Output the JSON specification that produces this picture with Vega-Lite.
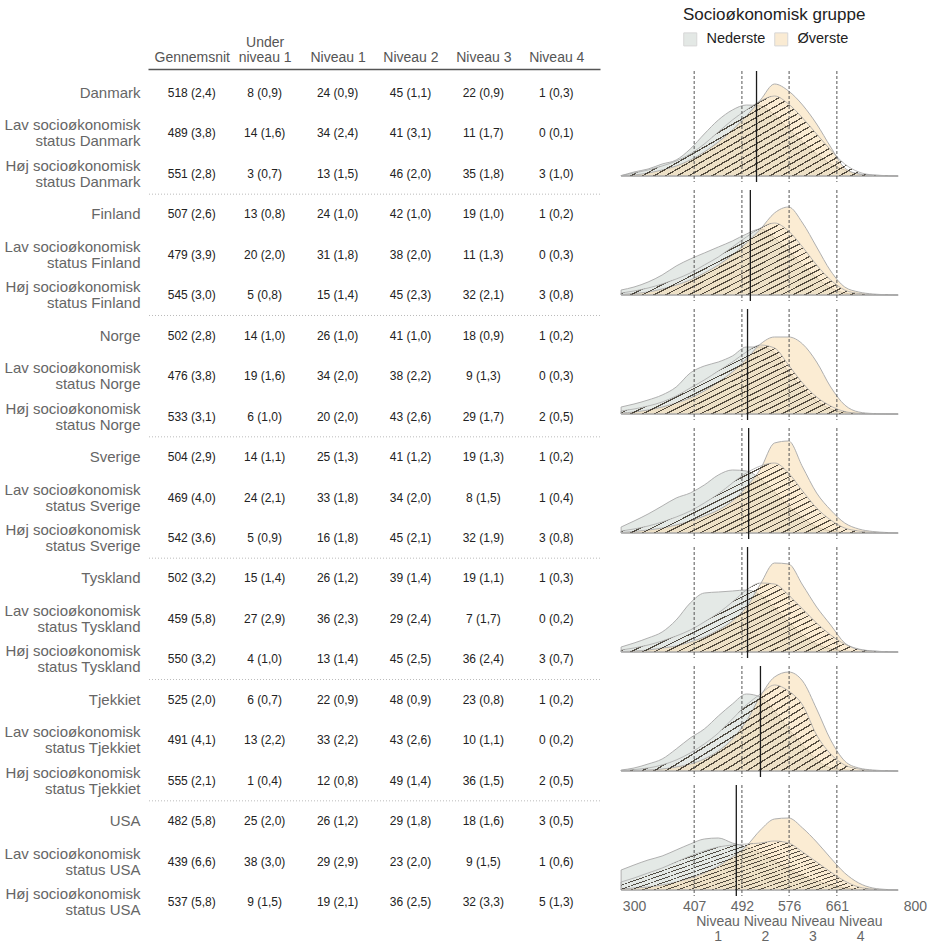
{
  "$schema": "https://vega.github.io/schema/vega-lite/v6.json",
  "autosize": {"type": "pad"},
  "padding": {"left": 4, "top": 7, "right": 0, "bottom": 0},
  "background": "white",
  "bounds": "flush",
  "spacing": 20,
  "config": {
    "view": {"stroke": null},
    "font": "Liberation Sans",
    "axis": {"grid": false}
  },
  "datasets": {
    "tabel": [
      {"rad": "Danmark", "Gennemsnit": "518 (2,4)", "Under niveau 1": "8 (0,9)", "Niveau 1": "24 (0,9)", "Niveau 2": "45 (1,1)", "Niveau 3": "22 (0,9)", "Niveau 4": "1 (0,3)"},
      {"rad": "Lav socioøkonomisk|status Danmark", "Gennemsnit": "489 (3,8)", "Under niveau 1": "14 (1,6)", "Niveau 1": "34 (2,4)", "Niveau 2": "41 (3,1)", "Niveau 3": "11 (1,7)", "Niveau 4": "0 (0,1)"},
      {"rad": "Høj socioøkonomisk|status Danmark", "Gennemsnit": "551 (2,8)", "Under niveau 1": "3 (0,7)", "Niveau 1": "13 (1,5)", "Niveau 2": "46 (2,0)", "Niveau 3": "35 (1,8)", "Niveau 4": "3 (1,0)"},
      {"rad": "Finland", "Gennemsnit": "507 (2,6)", "Under niveau 1": "13 (0,8)", "Niveau 1": "24 (1,0)", "Niveau 2": "42 (1,0)", "Niveau 3": "19 (1,0)", "Niveau 4": "1 (0,2)"},
      {"rad": "Lav socioøkonomisk|status Finland", "Gennemsnit": "479 (3,9)", "Under niveau 1": "20 (2,0)", "Niveau 1": "31 (1,8)", "Niveau 2": "38 (2,0)", "Niveau 3": "11 (1,3)", "Niveau 4": "0 (0,3)"},
      {"rad": "Høj socioøkonomisk|status Finland", "Gennemsnit": "545 (3,0)", "Under niveau 1": "5 (0,8)", "Niveau 1": "15 (1,4)", "Niveau 2": "45 (2,3)", "Niveau 3": "32 (2,1)", "Niveau 4": "3 (0,8)"},
      {"rad": "Norge", "Gennemsnit": "502 (2,8)", "Under niveau 1": "14 (1,0)", "Niveau 1": "26 (1,0)", "Niveau 2": "41 (1,0)", "Niveau 3": "18 (0,9)", "Niveau 4": "1 (0,2)"},
      {"rad": "Lav socioøkonomisk|status Norge", "Gennemsnit": "476 (3,8)", "Under niveau 1": "19 (1,6)", "Niveau 1": "34 (2,0)", "Niveau 2": "38 (2,2)", "Niveau 3": "9 (1,3)", "Niveau 4": "0 (0,3)"},
      {"rad": "Høj socioøkonomisk|status Norge", "Gennemsnit": "533 (3,1)", "Under niveau 1": "6 (1,0)", "Niveau 1": "20 (2,0)", "Niveau 2": "43 (2,6)", "Niveau 3": "29 (1,7)", "Niveau 4": "2 (0,5)"},
      {"rad": "Sverige", "Gennemsnit": "504 (2,9)", "Under niveau 1": "14 (1,1)", "Niveau 1": "25 (1,3)", "Niveau 2": "41 (1,2)", "Niveau 3": "19 (1,3)", "Niveau 4": "1 (0,2)"},
      {"rad": "Lav socioøkonomisk|status Sverige", "Gennemsnit": "469 (4,0)", "Under niveau 1": "24 (2,1)", "Niveau 1": "33 (1,8)", "Niveau 2": "34 (2,0)", "Niveau 3": "8 (1,5)", "Niveau 4": "1 (0,4)"},
      {"rad": "Høj socioøkonomisk|status Sverige", "Gennemsnit": "542 (3,6)", "Under niveau 1": "5 (0,9)", "Niveau 1": "16 (1,8)", "Niveau 2": "45 (2,1)", "Niveau 3": "32 (1,9)", "Niveau 4": "3 (0,8)"},
      {"rad": "Tyskland", "Gennemsnit": "502 (3,2)", "Under niveau 1": "15 (1,4)", "Niveau 1": "26 (1,2)", "Niveau 2": "39 (1,4)", "Niveau 3": "19 (1,1)", "Niveau 4": "1 (0,3)"},
      {"rad": "Lav socioøkonomisk|status Tyskland", "Gennemsnit": "459 (5,8)", "Under niveau 1": "27 (2,9)", "Niveau 1": "36 (2,3)", "Niveau 2": "29 (2,4)", "Niveau 3": "7 (1,7)", "Niveau 4": "0 (0,2)"},
      {"rad": "Høj socioøkonomisk|status Tyskland", "Gennemsnit": "550 (3,2)", "Under niveau 1": "4 (1,0)", "Niveau 1": "13 (1,4)", "Niveau 2": "45 (2,5)", "Niveau 3": "36 (2,4)", "Niveau 4": "3 (0,7)"},
      {"rad": "Tjekkiet", "Gennemsnit": "525 (2,0)", "Under niveau 1": "6 (0,7)", "Niveau 1": "22 (0,9)", "Niveau 2": "48 (0,9)", "Niveau 3": "23 (0,8)", "Niveau 4": "1 (0,2)"},
      {"rad": "Lav socioøkonomisk|status Tjekkiet", "Gennemsnit": "491 (4,1)", "Under niveau 1": "13 (2,2)", "Niveau 1": "33 (2,2)", "Niveau 2": "43 (2,6)", "Niveau 3": "10 (1,1)", "Niveau 4": "0 (0,2)"},
      {"rad": "Høj socioøkonomisk|status Tjekkiet", "Gennemsnit": "555 (2,1)", "Under niveau 1": "1 (0,4)", "Niveau 1": "12 (0,8)", "Niveau 2": "49 (1,4)", "Niveau 3": "36 (1,5)", "Niveau 4": "2 (0,5)"},
      {"rad": "USA", "Gennemsnit": "482 (5,8)", "Under niveau 1": "25 (2,0)", "Niveau 1": "26 (1,2)", "Niveau 2": "29 (1,8)", "Niveau 3": "18 (1,6)", "Niveau 4": "3 (0,5)"},
      {"rad": "Lav socioøkonomisk|status USA", "Gennemsnit": "439 (6,6)", "Under niveau 1": "38 (3,0)", "Niveau 1": "29 (2,9)", "Niveau 2": "23 (2,0)", "Niveau 3": "9 (1,5)", "Niveau 4": "1 (0,6)"},
      {"rad": "Høj socioøkonomisk|status USA", "Gennemsnit": "537 (5,8)", "Under niveau 1": "9 (1,5)", "Niveau 1": "19 (2,1)", "Niveau 2": "36 (2,5)", "Niveau 3": "32 (3,3)", "Niveau 4": "5 (1,3)"}
    ],
    "skille": [
      {"rad": "Finland"}, {"rad": "Norge"}, {"rad": "Sverige"}, {"rad": "Tyskland"}, {"rad": "Tjekkiet"}, {"rad": "USA"}
    ],
    "kurver": [
      {"land":"Danmark","score":277,"ned":0.3,"ovr":0.3,"sam":0.5},
      {"land":"Danmark","score":300,"ned":4,"ovr":1,"sam":3},
      {"land":"Danmark","score":325,"ned":7,"ovr":3,"sam":6},
      {"land":"Danmark","score":350,"ned":12,"ovr":6,"sam":10},
      {"land":"Danmark","score":375,"ned":16,"ovr":10,"sam":15},
      {"land":"Danmark","score":400,"ned":27,"ovr":16,"sam":22},
      {"land":"Danmark","score":425,"ned":42,"ovr":24,"sam":32},
      {"land":"Danmark","score":450,"ned":56,"ovr":34,"sam":44},
      {"land":"Danmark","score":475,"ned":66,"ovr":46,"sam":56},
      {"land":"Danmark","score":500,"ned":71,"ovr":60,"sam":66},
      {"land":"Danmark","score":525,"ned":70,"ovr":76,"sam":75},
      {"land":"Danmark","score":550,"ned":61,"ovr":92,"sam":80},
      {"land":"Danmark","score":575,"ned":47,"ovr":85,"sam":72},
      {"land":"Danmark","score":600,"ned":34,"ovr":71,"sam":58},
      {"land":"Danmark","score":625,"ned":22,"ovr":52,"sam":42},
      {"land":"Danmark","score":650,"ned":12,"ovr":29,"sam":26},
      {"land":"Danmark","score":675,"ned":6,"ovr":8,"sam":12},
      {"land":"Danmark","score":700,"ned":2,"ovr":2,"sam":4},
      {"land":"Danmark","score":725,"ned":1,"ovr":0.5,"sam":1},
      {"land":"Danmark","score":750,"ned":0.3,"ovr":0.2,"sam":0.3},
      {"land":"Danmark","score":770,"ned":0,"ovr":0,"sam":0},
      {"land":"Finland","score":277,"ned":5,"ovr":0.5,"sam":2},
      {"land":"Finland","score":300,"ned":8,"ovr":1.5,"sam":4},
      {"land":"Finland","score":325,"ned":13,"ovr":3,"sam":7},
      {"land":"Finland","score":350,"ned":20,"ovr":6,"sam":11},
      {"land":"Finland","score":375,"ned":29,"ovr":10,"sam":16},
      {"land":"Finland","score":400,"ned":36,"ovr":15,"sam":22},
      {"land":"Finland","score":425,"ned":42,"ovr":22,"sam":30},
      {"land":"Finland","score":450,"ned":48,"ovr":30,"sam":38},
      {"land":"Finland","score":475,"ned":54,"ovr":40,"sam":48},
      {"land":"Finland","score":500,"ned":61,"ovr":52,"sam":58},
      {"land":"Finland","score":525,"ned":66,"ovr":66,"sam":67},
      {"land":"Finland","score":550,"ned":57,"ovr":82,"sam":72},
      {"land":"Finland","score":575,"ned":44,"ovr":88,"sam":64},
      {"land":"Finland","score":600,"ned":30,"ovr":72,"sam":48},
      {"land":"Finland","score":625,"ned":17,"ovr":48,"sam":30},
      {"land":"Finland","score":650,"ned":7,"ovr":24,"sam":15},
      {"land":"Finland","score":675,"ned":2,"ovr":8,"sam":5},
      {"land":"Finland","score":700,"ned":0.5,"ovr":3,"sam":1.5},
      {"land":"Finland","score":725,"ned":0.2,"ovr":1,"sam":0.5},
      {"land":"Finland","score":750,"ned":0,"ovr":0.3,"sam":0.2},
      {"land":"Finland","score":770,"ned":0,"ovr":0,"sam":0},
      {"land":"Norge","score":277,"ned":7,"ovr":1,"sam":3},
      {"land":"Norge","score":300,"ned":10,"ovr":2,"sam":5},
      {"land":"Norge","score":325,"ned":14,"ovr":4,"sam":8},
      {"land":"Norge","score":350,"ned":19,"ovr":7,"sam":12},
      {"land":"Norge","score":375,"ned":27,"ovr":11,"sam":18},
      {"land":"Norge","score":400,"ned":41,"ovr":16,"sam":26},
      {"land":"Norge","score":425,"ned":48,"ovr":23,"sam":34},
      {"land":"Norge","score":450,"ned":52,"ovr":32,"sam":43},
      {"land":"Norge","score":475,"ned":58,"ovr":42,"sam":52},
      {"land":"Norge","score":500,"ned":67,"ovr":55,"sam":62},
      {"land":"Norge","score":525,"ned":67,"ovr":70,"sam":69},
      {"land":"Norge","score":550,"ned":61,"ovr":77,"sam":66},
      {"land":"Norge","score":575,"ned":42,"ovr":77,"sam":49},
      {"land":"Norge","score":600,"ned":26,"ovr":70,"sam":31},
      {"land":"Norge","score":625,"ned":13,"ovr":52,"sam":17},
      {"land":"Norge","score":650,"ned":5,"ovr":27,"sam":8},
      {"land":"Norge","score":675,"ned":1.5,"ovr":9,"sam":2.5},
      {"land":"Norge","score":700,"ned":0.5,"ovr":2,"sam":0.7},
      {"land":"Norge","score":725,"ned":0.2,"ovr":0.5,"sam":0.2},
      {"land":"Norge","score":750,"ned":0,"ovr":0.2,"sam":0},
      {"land":"Norge","score":770,"ned":0,"ovr":0,"sam":0},
      {"land":"Sverige","score":277,"ned":6,"ovr":0.5,"sam":2},
      {"land":"Sverige","score":300,"ned":12,"ovr":1.5,"sam":4},
      {"land":"Sverige","score":325,"ned":19,"ovr":3,"sam":7},
      {"land":"Sverige","score":350,"ned":27,"ovr":5,"sam":11},
      {"land":"Sverige","score":375,"ned":35,"ovr":8,"sam":16},
      {"land":"Sverige","score":400,"ned":40,"ovr":12,"sam":22},
      {"land":"Sverige","score":425,"ned":48,"ovr":17,"sam":30},
      {"land":"Sverige","score":450,"ned":58,"ovr":23,"sam":39},
      {"land":"Sverige","score":475,"ned":63,"ovr":32,"sam":50},
      {"land":"Sverige","score":500,"ned":62,"ovr":46,"sam":60},
      {"land":"Sverige","score":525,"ned":54,"ovr":64,"sam":67},
      {"land":"Sverige","score":550,"ned":41,"ovr":90,"sam":70},
      {"land":"Sverige","score":575,"ned":27,"ovr":92,"sam":60},
      {"land":"Sverige","score":600,"ned":15,"ovr":66,"sam":42},
      {"land":"Sverige","score":625,"ned":6,"ovr":40,"sam":25},
      {"land":"Sverige","score":650,"ned":2,"ovr":23,"sam":13},
      {"land":"Sverige","score":675,"ned":0.5,"ovr":10,"sam":5},
      {"land":"Sverige","score":700,"ned":0.2,"ovr":4,"sam":2},
      {"land":"Sverige","score":725,"ned":0,"ovr":1.5,"sam":0.5},
      {"land":"Sverige","score":750,"ned":0,"ovr":0.5,"sam":0.2},
      {"land":"Sverige","score":770,"ned":0,"ovr":0,"sam":0},
      {"land":"Tyskland","score":277,"ned":5,"ovr":0.5,"sam":2},
      {"land":"Tyskland","score":300,"ned":9,"ovr":1,"sam":4},
      {"land":"Tyskland","score":325,"ned":14,"ovr":2,"sam":7},
      {"land":"Tyskland","score":350,"ned":20,"ovr":4,"sam":11},
      {"land":"Tyskland","score":375,"ned":32,"ovr":6,"sam":16},
      {"land":"Tyskland","score":400,"ned":49,"ovr":10,"sam":22},
      {"land":"Tyskland","score":425,"ned":59,"ovr":15,"sam":30},
      {"land":"Tyskland","score":450,"ned":60,"ovr":22,"sam":39},
      {"land":"Tyskland","score":475,"ned":61,"ovr":31,"sam":50},
      {"land":"Tyskland","score":500,"ned":62,"ovr":45,"sam":62},
      {"land":"Tyskland","score":525,"ned":57,"ovr":68,"sam":69},
      {"land":"Tyskland","score":550,"ned":44,"ovr":89,"sam":68},
      {"land":"Tyskland","score":575,"ned":30,"ovr":88,"sam":57},
      {"land":"Tyskland","score":600,"ned":17,"ovr":67,"sam":43},
      {"land":"Tyskland","score":625,"ned":8,"ovr":45,"sam":29},
      {"land":"Tyskland","score":650,"ned":3,"ovr":27,"sam":17},
      {"land":"Tyskland","score":675,"ned":1,"ovr":9,"sam":8},
      {"land":"Tyskland","score":700,"ned":0.3,"ovr":2.5,"sam":3},
      {"land":"Tyskland","score":725,"ned":0,"ovr":1,"sam":1},
      {"land":"Tyskland","score":750,"ned":0,"ovr":0.3,"sam":0.3},
      {"land":"Tyskland","score":770,"ned":0,"ovr":0,"sam":0},
      {"land":"Tjekkiet","score":277,"ned":1,"ovr":0.3,"sam":0.5},
      {"land":"Tjekkiet","score":300,"ned":3,"ovr":0.5,"sam":1.5},
      {"land":"Tjekkiet","score":325,"ned":7,"ovr":1,"sam":3},
      {"land":"Tjekkiet","score":350,"ned":12,"ovr":2,"sam":6},
      {"land":"Tjekkiet","score":375,"ned":22,"ovr":4,"sam":11},
      {"land":"Tjekkiet","score":400,"ned":33,"ovr":7,"sam":18},
      {"land":"Tjekkiet","score":425,"ned":42,"ovr":12,"sam":27},
      {"land":"Tjekkiet","score":450,"ned":55,"ovr":20,"sam":38},
      {"land":"Tjekkiet","score":475,"ned":67,"ovr":32,"sam":52},
      {"land":"Tjekkiet","score":500,"ned":77,"ovr":50,"sam":66},
      {"land":"Tjekkiet","score":525,"ned":74,"ovr":75,"sam":77},
      {"land":"Tjekkiet","score":550,"ned":60,"ovr":94,"sam":86},
      {"land":"Tjekkiet","score":575,"ned":42,"ovr":99,"sam":80},
      {"land":"Tjekkiet","score":600,"ned":26,"ovr":90,"sam":66},
      {"land":"Tjekkiet","score":625,"ned":11,"ovr":62,"sam":36},
      {"land":"Tjekkiet","score":650,"ned":3,"ovr":31,"sam":17},
      {"land":"Tjekkiet","score":675,"ned":1,"ovr":10,"sam":6},
      {"land":"Tjekkiet","score":700,"ned":0.3,"ovr":3,"sam":2},
      {"land":"Tjekkiet","score":725,"ned":0,"ovr":1,"sam":0.5},
      {"land":"Tjekkiet","score":750,"ned":0,"ovr":0.3,"sam":0.2},
      {"land":"Tjekkiet","score":770,"ned":0,"ovr":0,"sam":0},
      {"land":"USA","score":277,"ned":20,"ovr":1,"sam":8},
      {"land":"USA","score":300,"ned":25,"ovr":2,"sam":12},
      {"land":"USA","score":325,"ned":30,"ovr":3,"sam":17},
      {"land":"USA","score":350,"ned":34,"ovr":5,"sam":22},
      {"land":"USA","score":375,"ned":40,"ovr":8,"sam":28},
      {"land":"USA","score":400,"ned":46,"ovr":12,"sam":34},
      {"land":"USA","score":425,"ned":51,"ovr":17,"sam":39},
      {"land":"USA","score":450,"ned":52,"ovr":24,"sam":43},
      {"land":"USA","score":475,"ned":47,"ovr":33,"sam":45},
      {"land":"USA","score":500,"ned":43,"ovr":44,"sam":46},
      {"land":"USA","score":525,"ned":37,"ovr":60,"sam":47},
      {"land":"USA","score":550,"ned":29,"ovr":71,"sam":49},
      {"land":"USA","score":575,"ned":21,"ovr":72,"sam":47},
      {"land":"USA","score":600,"ned":14,"ovr":62,"sam":38},
      {"land":"USA","score":625,"ned":9,"ovr":48,"sam":28},
      {"land":"USA","score":650,"ned":5,"ovr":32,"sam":18},
      {"land":"USA","score":675,"ned":2,"ovr":17,"sam":9},
      {"land":"USA","score":700,"ned":0.7,"ovr":7,"sam":3},
      {"land":"USA","score":725,"ned":0.3,"ovr":2,"sam":1},
      {"land":"USA","score":750,"ned":0,"ovr":0.5,"sam":0.3},
      {"land":"USA","score":770,"ned":0,"ovr":0,"sam":0},
      {"land":"Danmark","snit":518},
      {"land":"Finland","snit":507},
      {"land":"Norge","snit":502},
      {"land":"Sverige","snit":504},
      {"land":"Tyskland","snit":502},
      {"land":"Tjekkiet","snit":525},
      {"land":"USA","snit":482},
      {"land":"Danmark","niveau":407},{"land":"Danmark","niveau":492},{"land":"Danmark","niveau":576},{"land":"Danmark","niveau":661},
      {"land":"Finland","niveau":407},{"land":"Finland","niveau":492},{"land":"Finland","niveau":576},{"land":"Finland","niveau":661},
      {"land":"Norge","niveau":407},{"land":"Norge","niveau":492},{"land":"Norge","niveau":576},{"land":"Norge","niveau":661},
      {"land":"Sverige","niveau":407},{"land":"Sverige","niveau":492},{"land":"Sverige","niveau":576},{"land":"Sverige","niveau":661},
      {"land":"Tyskland","niveau":407},{"land":"Tyskland","niveau":492},{"land":"Tyskland","niveau":576},{"land":"Tyskland","niveau":661},
      {"land":"Tjekkiet","niveau":407},{"land":"Tjekkiet","niveau":492},{"land":"Tjekkiet","niveau":576},{"land":"Tjekkiet","niveau":661},
      {"land":"USA","niveau":407},{"land":"USA","niveau":492},{"land":"USA","niveau":576},{"land":"USA","niveau":661},
      {"land":"USA","midt":449.5,"niveaunavn":["Niveau","1"]},
      {"land":"USA","midt":534,"niveaunavn":["Niveau","2"]},
      {"land":"USA","midt":618.5,"niveaunavn":["Niveau","3"]},
      {"land":"USA","midt":703.5,"niveaunavn":["Niveau","4"]}
    ]
  },
  "hconcat": [
    {
      "width": 452,
      "height": 853,
      "layer": [
        {
          "data": {"name": "tabel"},
          "transform": [{"fold": ["Gennemsnit", "Under niveau 1", "Niveau 1", "Niveau 2", "Niveau 3", "Niveau 4"], "as": ["kol", "tekst"]}],
          "mark": {"type": "text", "fontSize": 12, "color": "#222222", "align": "center", "baseline": "middle"},
          "encoding": {
            "x": {
              "field": "kol", "type": "nominal", "sort": null,
              "scale": {"type": "point", "padding": 0.6, "domain": ["Gennemsnit", "Under niveau 1", "Niveau 1", "Niveau 2", "Niveau 3", "Niveau 4"]},
              "axis": {
                "orient": "top", "title": null, "labelAngle": 0, "ticks": false,
                "domain": true, "domainColor": "#555555", "domainWidth": 1.5, "offset": 2,
                "labelPadding": 20, "labelFontSize": 14, "labelColor": "#555555", "labelLineHeight": 15,
                "labelExpr": "datum.label == 'Under niveau 1' ? ['Under', 'niveau 1'] : ['\u00a0', datum.label]"
              }
            },
            "y": {
              "field": "rad", "type": "nominal", "sort": null,
              "scale": {
                "type": "band", "paddingInner": 0, "paddingOuter": 0.045,
                "domain": [
                  "Danmark", "Lav socioøkonomisk|status Danmark", "Høj socioøkonomisk|status Danmark",
                  "Finland", "Lav socioøkonomisk|status Finland", "Høj socioøkonomisk|status Finland",
                  "Norge", "Lav socioøkonomisk|status Norge", "Høj socioøkonomisk|status Norge",
                  "Sverige", "Lav socioøkonomisk|status Sverige", "Høj socioøkonomisk|status Sverige",
                  "Tyskland", "Lav socioøkonomisk|status Tyskland", "Høj socioøkonomisk|status Tyskland",
                  "Tjekkiet", "Lav socioøkonomisk|status Tjekkiet", "Høj socioøkonomisk|status Tjekkiet",
                  "USA", "Lav socioøkonomisk|status USA", "Høj socioøkonomisk|status USA"
                ]
              },
              "axis": {
                "title": null, "ticks": false, "domain": false, "labelPadding": 8,
                "labelFontSize": 15, "labelColor": "#666666", "labelLineHeight": 16,
                "labelOffset": {"condition": {"test": "indexof(datum.value, '|') >= 0", "value": -8}, "value": 0},
                "labelExpr": "split(datum.label, '|')"
              }
            },
            "text": {"field": "tekst", "type": "nominal"}
          }
        },
        {
          "data": {"name": "skille"},
          "mark": {"type": "rule", "color": "#bbbbbb", "strokeDash": [1, 2], "strokeWidth": 1},
          "encoding": {
            "y": {"field": "rad", "type": "nominal", "bandPosition": 0}
          }
        }
      ]
    },
    {
      "data": {"name": "kurver"},
      "facet": {
        "row": {
          "field": "land", "type": "nominal", "header": null,
          "sort": ["Danmark", "Finland", "Norge", "Sverige", "Tyskland", "Tjekkiet", "USA"]
        }
      },
      "spacing": 8,
      "bounds": "flush",
      "spec": {
        "width": 309,
        "height": 111,
        "layer": [
          {
            "transform": [{"filter": "isValid(datum.score)"}],
            "mark": {"type": "area", "interpolate": "monotone", "fillOpacity": 0.5, "stroke": "#b0b0b0", "strokeWidth": 1},
            "encoding": {
              "x": {
                "field": "score", "type": "quantitative",
                "scale": {"domain": [275, 825], "nice": false, "zero": false},
                "axis": {
                  "title": null, "values": [300, 407, 492, 576, 661, 800],
                  "domain": false, "ticks": false, "grid": false,
                  "labelFontSize": 14, "labelColor": "#666666", "labelPadding": 3,
                  "labelOverlap": false, "labelFlush": false, "labelBound": false
                }
              },
              "y": {"field": "ned", "type": "quantitative", "scale": {"domain": [-6, 105], "nice": false, "zero": false}, "axis": null},
              "fill": {
                "datum": "Nederste", "type": "nominal",
                "scale": {"domain": ["Nederste", "Øverste"], "range": ["#c9d3cd", "#f7d9a8"]},
                "legend": {
                  "title": "Socioøkonomisk gruppe", "orient": "none", "legendX": 535, "legendY": -64,
                  "direction": "horizontal", "padding": 0, "titleLimit": 400,
                  "titleFontSize": 17, "titleFontWeight": "normal", "titleColor": "#222222", "titlePadding": 8,
                  "labelFontSize": 14.5, "labelColor": "#222222", "labelOffset": 9, "columnPadding": 6,
                  "symbolType": "square", "symbolSize": 169, "symbolStrokeColor": "#999999", "symbolStrokeWidth": 1,
                  "symbolOpacity": 0.5
                }
              }
            }
          },
          {
            "transform": [{"filter": "isValid(datum.score)"}],
            "mark": {"type": "area", "interpolate": "monotone", "fillOpacity": 0.5, "stroke": "#b0b0b0", "strokeWidth": 1},
            "encoding": {
              "x": {"field": "score", "type": "quantitative"},
              "y": {"field": "ovr", "type": "quantitative"},
              "fill": {"datum": "Øverste", "type": "nominal"}
            }
          },
          {
            "transform": [{"filter": "isValid(datum.score)"}],
            "mark": {
              "type": "area", "interpolate": "monotone", "stroke": "#a8a8a8", "strokeWidth": 0.8,
              "fill": {
                "gradient": "linear", "x1": 0, "y1": 0, "x2": 1.2, "y2": 0.606,
                "stops": [
                  {"offset": 0, "color": "rgba(0,0,0,0)"},
                  {"offset": 0.0217, "color": "rgba(0,0,0,0)"}, {"offset": 0.0217, "color": "rgba(45,38,28,0.8)"}, {"offset": 0.0278, "color": "rgba(45,38,28,0.8)"}, {"offset": 0.0278, "color": "rgba(0,0,0,0)"},
                  {"offset": 0.0494, "color": "rgba(0,0,0,0)"}, {"offset": 0.0494, "color": "rgba(45,38,28,0.8)"}, {"offset": 0.0556, "color": "rgba(45,38,28,0.8)"}, {"offset": 0.0556, "color": "rgba(0,0,0,0)"},
                  {"offset": 0.0772, "color": "rgba(0,0,0,0)"}, {"offset": 0.0772, "color": "rgba(45,38,28,0.8)"}, {"offset": 0.0833, "color": "rgba(45,38,28,0.8)"}, {"offset": 0.0833, "color": "rgba(0,0,0,0)"},
                  {"offset": 0.1050, "color": "rgba(0,0,0,0)"}, {"offset": 0.1050, "color": "rgba(45,38,28,0.8)"}, {"offset": 0.1111, "color": "rgba(45,38,28,0.8)"}, {"offset": 0.1111, "color": "rgba(0,0,0,0)"},
                  {"offset": 0.1328, "color": "rgba(0,0,0,0)"}, {"offset": 0.1328, "color": "rgba(45,38,28,0.8)"}, {"offset": 0.1389, "color": "rgba(45,38,28,0.8)"}, {"offset": 0.1389, "color": "rgba(0,0,0,0)"},
                  {"offset": 0.1606, "color": "rgba(0,0,0,0)"}, {"offset": 0.1606, "color": "rgba(45,38,28,0.8)"}, {"offset": 0.1667, "color": "rgba(45,38,28,0.8)"}, {"offset": 0.1667, "color": "rgba(0,0,0,0)"},
                  {"offset": 0.1883, "color": "rgba(0,0,0,0)"}, {"offset": 0.1883, "color": "rgba(45,38,28,0.8)"}, {"offset": 0.1944, "color": "rgba(45,38,28,0.8)"}, {"offset": 0.1944, "color": "rgba(0,0,0,0)"},
                  {"offset": 0.2161, "color": "rgba(0,0,0,0)"}, {"offset": 0.2161, "color": "rgba(45,38,28,0.8)"}, {"offset": 0.2222, "color": "rgba(45,38,28,0.8)"}, {"offset": 0.2222, "color": "rgba(0,0,0,0)"},
                  {"offset": 0.2439, "color": "rgba(0,0,0,0)"}, {"offset": 0.2439, "color": "rgba(45,38,28,0.8)"}, {"offset": 0.2500, "color": "rgba(45,38,28,0.8)"}, {"offset": 0.2500, "color": "rgba(0,0,0,0)"},
                  {"offset": 0.2717, "color": "rgba(0,0,0,0)"}, {"offset": 0.2717, "color": "rgba(45,38,28,0.8)"}, {"offset": 0.2778, "color": "rgba(45,38,28,0.8)"}, {"offset": 0.2778, "color": "rgba(0,0,0,0)"},
                  {"offset": 0.2994, "color": "rgba(0,0,0,0)"}, {"offset": 0.2994, "color": "rgba(45,38,28,0.8)"}, {"offset": 0.3056, "color": "rgba(45,38,28,0.8)"}, {"offset": 0.3056, "color": "rgba(0,0,0,0)"},
                  {"offset": 0.3272, "color": "rgba(0,0,0,0)"}, {"offset": 0.3272, "color": "rgba(45,38,28,0.8)"}, {"offset": 0.3333, "color": "rgba(45,38,28,0.8)"}, {"offset": 0.3333, "color": "rgba(0,0,0,0)"},
                  {"offset": 0.3550, "color": "rgba(0,0,0,0)"}, {"offset": 0.3550, "color": "rgba(45,38,28,0.8)"}, {"offset": 0.3611, "color": "rgba(45,38,28,0.8)"}, {"offset": 0.3611, "color": "rgba(0,0,0,0)"},
                  {"offset": 0.3828, "color": "rgba(0,0,0,0)"}, {"offset": 0.3828, "color": "rgba(45,38,28,0.8)"}, {"offset": 0.3889, "color": "rgba(45,38,28,0.8)"}, {"offset": 0.3889, "color": "rgba(0,0,0,0)"},
                  {"offset": 0.4106, "color": "rgba(0,0,0,0)"}, {"offset": 0.4106, "color": "rgba(45,38,28,0.8)"}, {"offset": 0.4167, "color": "rgba(45,38,28,0.8)"}, {"offset": 0.4167, "color": "rgba(0,0,0,0)"},
                  {"offset": 0.4383, "color": "rgba(0,0,0,0)"}, {"offset": 0.4383, "color": "rgba(45,38,28,0.8)"}, {"offset": 0.4444, "color": "rgba(45,38,28,0.8)"}, {"offset": 0.4444, "color": "rgba(0,0,0,0)"},
                  {"offset": 0.4661, "color": "rgba(0,0,0,0)"}, {"offset": 0.4661, "color": "rgba(45,38,28,0.8)"}, {"offset": 0.4722, "color": "rgba(45,38,28,0.8)"}, {"offset": 0.4722, "color": "rgba(0,0,0,0)"},
                  {"offset": 0.4939, "color": "rgba(0,0,0,0)"}, {"offset": 0.4939, "color": "rgba(45,38,28,0.8)"}, {"offset": 0.5000, "color": "rgba(45,38,28,0.8)"}, {"offset": 0.5000, "color": "rgba(0,0,0,0)"},
                  {"offset": 0.5217, "color": "rgba(0,0,0,0)"}, {"offset": 0.5217, "color": "rgba(45,38,28,0.8)"}, {"offset": 0.5278, "color": "rgba(45,38,28,0.8)"}, {"offset": 0.5278, "color": "rgba(0,0,0,0)"},
                  {"offset": 0.5494, "color": "rgba(0,0,0,0)"}, {"offset": 0.5494, "color": "rgba(45,38,28,0.8)"}, {"offset": 0.5556, "color": "rgba(45,38,28,0.8)"}, {"offset": 0.5556, "color": "rgba(0,0,0,0)"},
                  {"offset": 0.5772, "color": "rgba(0,0,0,0)"}, {"offset": 0.5772, "color": "rgba(45,38,28,0.8)"}, {"offset": 0.5833, "color": "rgba(45,38,28,0.8)"}, {"offset": 0.5833, "color": "rgba(0,0,0,0)"},
                  {"offset": 0.6050, "color": "rgba(0,0,0,0)"}, {"offset": 0.6050, "color": "rgba(45,38,28,0.8)"}, {"offset": 0.6111, "color": "rgba(45,38,28,0.8)"}, {"offset": 0.6111, "color": "rgba(0,0,0,0)"},
                  {"offset": 0.6328, "color": "rgba(0,0,0,0)"}, {"offset": 0.6328, "color": "rgba(45,38,28,0.8)"}, {"offset": 0.6389, "color": "rgba(45,38,28,0.8)"}, {"offset": 0.6389, "color": "rgba(0,0,0,0)"},
                  {"offset": 0.6606, "color": "rgba(0,0,0,0)"}, {"offset": 0.6606, "color": "rgba(45,38,28,0.8)"}, {"offset": 0.6667, "color": "rgba(45,38,28,0.8)"}, {"offset": 0.6667, "color": "rgba(0,0,0,0)"},
                  {"offset": 0.6883, "color": "rgba(0,0,0,0)"}, {"offset": 0.6883, "color": "rgba(45,38,28,0.8)"}, {"offset": 0.6944, "color": "rgba(45,38,28,0.8)"}, {"offset": 0.6944, "color": "rgba(0,0,0,0)"},
                  {"offset": 0.7161, "color": "rgba(0,0,0,0)"}, {"offset": 0.7161, "color": "rgba(45,38,28,0.8)"}, {"offset": 0.7222, "color": "rgba(45,38,28,0.8)"}, {"offset": 0.7222, "color": "rgba(0,0,0,0)"},
                  {"offset": 0.7439, "color": "rgba(0,0,0,0)"}, {"offset": 0.7439, "color": "rgba(45,38,28,0.8)"}, {"offset": 0.7500, "color": "rgba(45,38,28,0.8)"}, {"offset": 0.7500, "color": "rgba(0,0,0,0)"},
                  {"offset": 0.7717, "color": "rgba(0,0,0,0)"}, {"offset": 0.7717, "color": "rgba(45,38,28,0.8)"}, {"offset": 0.7778, "color": "rgba(45,38,28,0.8)"}, {"offset": 0.7778, "color": "rgba(0,0,0,0)"},
                  {"offset": 0.7994, "color": "rgba(0,0,0,0)"}, {"offset": 0.7994, "color": "rgba(45,38,28,0.8)"}, {"offset": 0.8056, "color": "rgba(45,38,28,0.8)"}, {"offset": 0.8056, "color": "rgba(0,0,0,0)"},
                  {"offset": 0.8272, "color": "rgba(0,0,0,0)"}, {"offset": 0.8272, "color": "rgba(45,38,28,0.8)"}, {"offset": 0.8333, "color": "rgba(45,38,28,0.8)"}, {"offset": 0.8333, "color": "rgba(0,0,0,0)"},
                  {"offset": 0.8550, "color": "rgba(0,0,0,0)"}, {"offset": 0.8550, "color": "rgba(45,38,28,0.8)"}, {"offset": 0.8611, "color": "rgba(45,38,28,0.8)"}, {"offset": 0.8611, "color": "rgba(0,0,0,0)"},
                  {"offset": 0.8828, "color": "rgba(0,0,0,0)"}, {"offset": 0.8828, "color": "rgba(45,38,28,0.8)"}, {"offset": 0.8889, "color": "rgba(45,38,28,0.8)"}, {"offset": 0.8889, "color": "rgba(0,0,0,0)"},
                  {"offset": 0.9106, "color": "rgba(0,0,0,0)"}, {"offset": 0.9106, "color": "rgba(45,38,28,0.8)"}, {"offset": 0.9167, "color": "rgba(45,38,28,0.8)"}, {"offset": 0.9167, "color": "rgba(0,0,0,0)"},
                  {"offset": 0.9383, "color": "rgba(0,0,0,0)"}, {"offset": 0.9383, "color": "rgba(45,38,28,0.8)"}, {"offset": 0.9444, "color": "rgba(45,38,28,0.8)"}, {"offset": 0.9444, "color": "rgba(0,0,0,0)"},
                  {"offset": 0.9661, "color": "rgba(0,0,0,0)"}, {"offset": 0.9661, "color": "rgba(45,38,28,0.8)"}, {"offset": 0.9722, "color": "rgba(45,38,28,0.8)"}, {"offset": 0.9722, "color": "rgba(0,0,0,0)"},
                  {"offset": 0.9939, "color": "rgba(0,0,0,0)"}, {"offset": 0.9939, "color": "rgba(45,38,28,0.8)"}, {"offset": 1, "color": "rgba(45,38,28,0.8)"}
                ]
              }
            },
            "encoding": {
              "x": {"field": "score", "type": "quantitative"},
              "y": {"field": "sam", "type": "quantitative"}
            }
          },
          {
            "transform": [{"filter": "isValid(datum.niveau)"}],
            "mark": {"type": "rule", "color": "#555555", "strokeWidth": 1, "strokeDash": [3, 2]},
            "encoding": {
              "x": {"field": "niveau", "type": "quantitative"}
            }
          },
          {
            "transform": [{"filter": "isValid(datum.snit)"}],
            "mark": {"type": "rule", "color": "#1a1a1a", "strokeWidth": 1.3},
            "encoding": {
              "x": {"field": "snit", "type": "quantitative"}
            }
          },
          {
            "transform": [{"filter": "isValid(datum.midt)"}],
            "mark": {"type": "text", "fontSize": 14, "color": "#666666", "align": "center", "baseline": "top", "lineHeight": 15},
            "encoding": {
              "x": {"field": "midt", "type": "quantitative"},
              "y": {"datum": -25, "type": "quantitative"},
              "text": {"field": "niveaunavn"}
            }
          }
        ]
      }
    }
  ]
}
